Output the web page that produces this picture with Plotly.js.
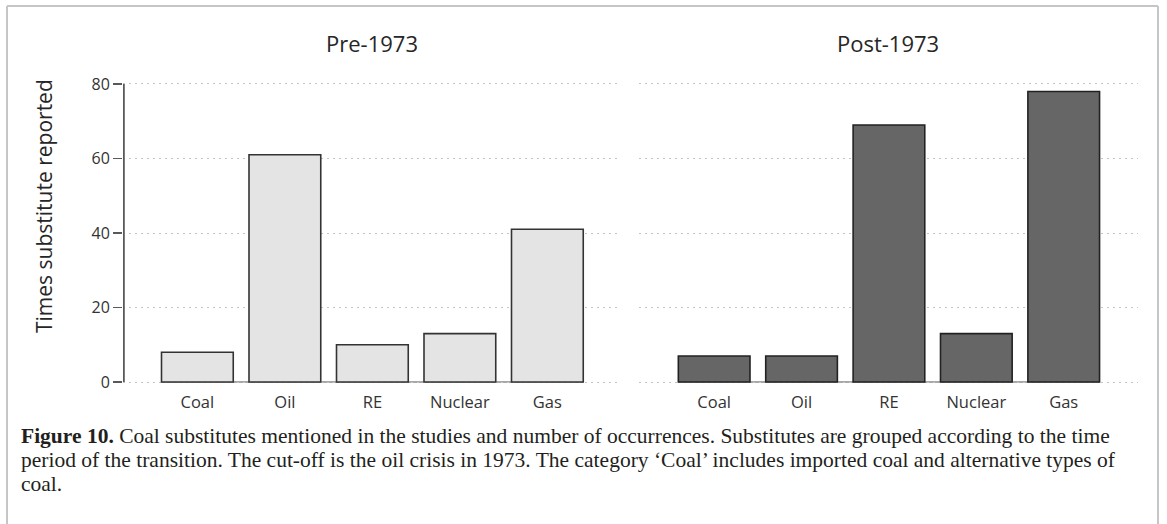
<!DOCTYPE html>
<html>
<head>
<meta charset="utf-8">
<script src="https://cdn.plot.ly/plotly-3.0.1.min.js"></script>
<style>
  html, body { margin: 0; padding: 0; background: #ffffff; }
  #chart { width: 1167px; height: 524px; }
</style>
</head>
<body>
<div id="chart"></div>
<script>
// ---- data ----
const categories = ["Coal", "Oil", "RE", "Nuclear", "Gas"];
const pre1973 = [8, 61, 10, 13, 41];
const post1973 = [7, 7, 69, 13, 78];
const panelTitles = ["Pre-1973", "Post-1973"];
const yTitle = "Times substitute reported";
const yTicks = [0, 20, 40, 60, 80];
const captionLines = [
  "<b>Figure 10.</b> Coal substitutes mentioned in the studies and number of occurrences. Substitutes are grouped according to the time",
  "period of the transition. The cut-off is the oil crisis in 1973. The category \u2018Coal\u2019 includes imported coal and alternative types of",
  "coal."
];

// ---- geometry helpers (pixel -> paper) ----
const W = 1167, H = 524;
const px = v => v / W;
const py = v => 1 - v / H;

const font = "'Open Sans', 'Noto Sans', sans-serif";
const serif = "'Liberation Serif', 'DejaVu Serif', serif";
const gridDash = "2px,4px";

const traces = [
  {
    type: "bar", x: categories, y: pre1973, xaxis: "x", yaxis: "y",
    marker: { color: "#e4e4e4", line: { color: "#333333", width: 1.6 } },
    hoverinfo: "x+y"
  },
  {
    type: "bar", x: categories, y: post1973, xaxis: "x2", yaxis: "y2",
    marker: { color: "#666666", line: { color: "#222222", width: 1.6 } },
    hoverinfo: "x+y"
  }
];

// y range padded so the 0 and 80 gridlines are not clipped at the plot edges
const yPad = 1;
const pxPerUnit = (382 - 84) / 80;
const yDomain = [py(382 + yPad * pxPerUnit), py(84 - yPad * pxPerUnit)];

const xCommon = {
  type: "category",
  showgrid: false, zeroline: false, showline: false,
  ticks: "", tickfont: { family: font, size: 16.5, color: "#333333" },
  ticklabelstandoff: 5, fixedrange: true
};
const yCommon = {
  range: [-yPad, 80 + yPad], tickvals: yTicks, domain: yDomain,
  showgrid: true, gridcolor: "#c4c4c4", gridwidth: 1, griddash: gridDash,
  zeroline: false, fixedrange: true
};

const annotations = [
  { xref: "paper", yref: "paper", x: px(371.5), y: py(43), xanchor: "center", yanchor: "middle",
    text: panelTitles[0], showarrow: false, font: { family: font, size: 22, color: "#262626" } },
  { xref: "paper", yref: "paper", x: px(888), y: py(43), xanchor: "center", yanchor: "middle",
    text: panelTitles[1], showarrow: false, font: { family: font, size: 22, color: "#262626" } },
  { xref: "paper", yref: "paper", x: px(44), y: py(206), xanchor: "center", yanchor: "middle",
    text: yTitle, textangle: -90, showarrow: false, font: { family: font, size: 21, color: "#262626" } }
];
captionLines.forEach((line, i) => {
  annotations.push({
    xref: "paper", yref: "paper", x: px(19), y: py(436 + 24 * i), xanchor: "left", yanchor: "middle",
    align: "left", text: line, showarrow: false,
    font: { family: serif, size: 21.5, color: "#231f20" }
  });
});

const layout = {
  width: W, height: H,
  margin: { l: 0, r: 0, t: 0, b: 0, pad: 0 },
  paper_bgcolor: "#ffffff", plot_bgcolor: "rgba(0,0,0,0)",
  showlegend: false,
  bargap: 0.18,
  xaxis: Object.assign({}, xCommon, { domain: [px(123), px(620)], range: [-0.85, 4.83], anchor: "y" }),
  xaxis2: Object.assign({}, xCommon, { domain: [px(639), px(1138)], range: [-0.86, 4.85], anchor: "y2" }),
  yaxis: Object.assign({}, yCommon, {
    anchor: "x",
    showline: false,
    ticks: "outside", ticklen: 9, tickwidth: 1.2, tickcolor: "#595959",
    tickfont: { family: font, size: 16, color: "#333333" },
    ticklabelstandoff: 0
  }),
  yaxis2: Object.assign({}, yCommon, {
    anchor: "x2", showline: false, ticks: "", showticklabels: false
  }),
  shapes: [
    // y axis line spanning exactly 0..80 (just inside the subplot so it is not clipped)
    { type: "line", xref: "x", yref: "y", x0: -0.84, x1: -0.84, y0: 0, y1: 80,
      line: { color: "#595959", width: 1.8 } },
    // baselines under bars
    { type: "line", xref: "x", yref: "y", x0: -0.41, x1: 4.41, y0: 0, y1: 0,
      line: { color: "#a8a8a8", width: 2 }, layer: "below" },
    { type: "line", xref: "x2", yref: "y2", x0: -0.41, x1: 4.41, y0: 0, y1: 0,
      line: { color: "#a8a8a8", width: 2 }, layer: "below" },
    // figure frame
    { type: "line", xref: "paper", yref: "paper", x0: px(7), x1: px(7), y0: py(6), y1: py(530),
      line: { color: "#c6c6c6", width: 2 } },
    { type: "line", xref: "paper", yref: "paper", x0: px(7), x1: px(1158), y0: py(6), y1: py(6),
      line: { color: "#c6c6c6", width: 2 } },
    { type: "line", xref: "paper", yref: "paper", x0: px(1158), x1: px(1158), y0: py(6), y1: py(530),
      line: { color: "#c6c6c6", width: 2 } }
  ],
  annotations: annotations
};

Plotly.newPlot("chart", traces, layout, { displayModeBar: false, staticPlot: true });
</script>
</body>
</html>
